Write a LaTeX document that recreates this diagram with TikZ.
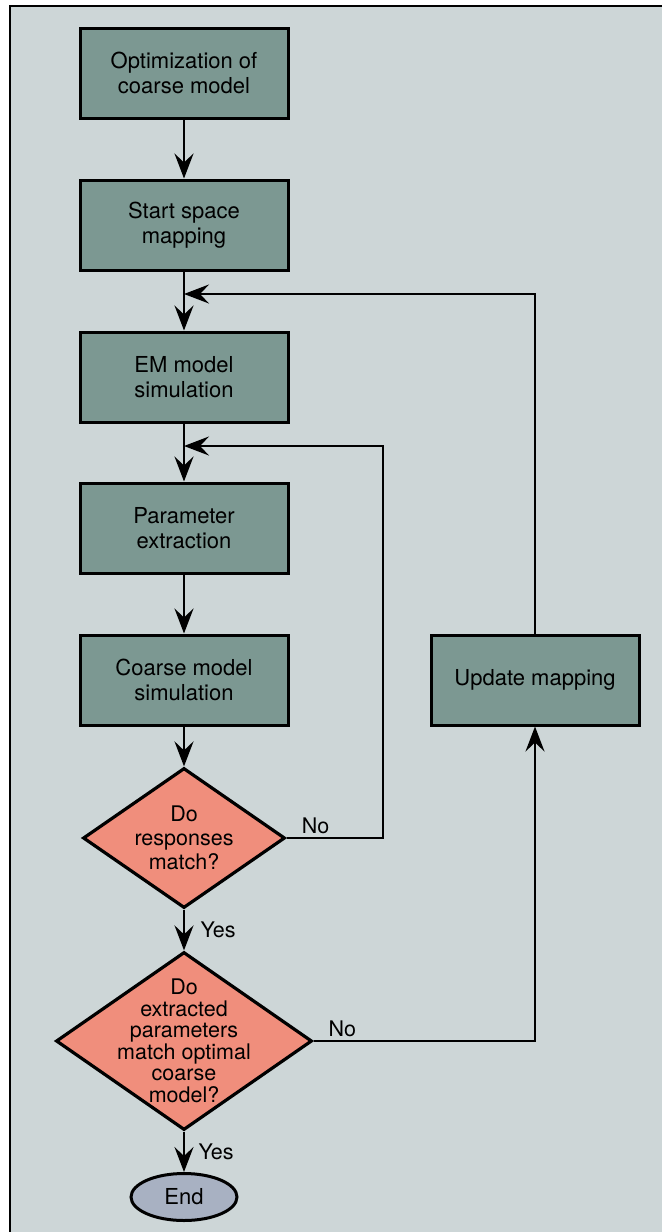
\documentclass[tikz,border=0pt]{standalone}
\usepackage{fontspec}
\setmainfont{TeX Gyre Heros}
\usetikzlibrary{arrows.meta,positioning,shapes.geometric}
\definecolor{paper}{RGB}{205,214,215}
\definecolor{procfill}{RGB}{124,152,146}
\definecolor{askfill}{RGB}{240,142,124}
\definecolor{endfill}{RGB}{168,177,194}

\begin{document}
\begin{tikzpicture}[
    x=1pt, y=-1pt,
    proc/.style={draw, rectangle, line width=3pt, fill=procfill, minimum width=208pt, minimum height=90pt, align=center, font=\fontsize{22}{25}\selectfont},
    decision/.style={draw, diamond, line width=3.2pt, fill=askfill, inner sep=0pt},
    qtext/.style={align=center, font=\fontsize{21.5}{24}\selectfont},
    terminal/.style={draw, ellipse, line width=3pt, fill=endfill, minimum width=106pt, minimum height=47pt, font=\fontsize{22}{25}\selectfont},
    arrow/.style={-{Stealth[length=25pt, width=19pt, inset=9pt]}, line width=2.4pt},
    lab/.style={font=\fontsize{21.5}{24}\selectfont}
  ]
    \useasboundingbox (0,0) rectangle (662,1232);
    \fill[paper] (10,6) rectangle (662,1232);
    \draw[line width=2pt] (662,6) -- (10,6) -- (10,1232);

    \node[proc] (opt) at (184,73)  {Optimization of\\coarse model};
    \node[proc] (ssm) at (184,225) {Start space\\mapping};
    \node[proc] (em)  at (184,377) {EM model\\simulation};
    \node[proc] (pe)  at (184,528) {Parameter\\extraction};
    \node[proc] (cms) at (184,680) {Coarse model\\simulation};
    \node[proc] (upd) at (535,680) {Update mapping};

    \node[decision, minimum width=202pt, minimum height=140pt] (resp) at (184,838) {};
    \node[qtext] (resptxt) at (resp) {Do\\responses\\match?};
    \node[decision, minimum width=256pt, minimum height=178pt] (optm) at (184,1041) {};
    \node[qtext, font=\fontsize{21.5}{21.5}\selectfont] (optmtxt) at (optm) {Do\\extracted\\parameters\\match optimal\\coarse\\model?};
    \node[terminal] (done) at (184,1197) {End};

    \coordinate (j1) at (184,294);
    \coordinate (j2) at (184,446);
    \coordinate (r2) at (383,446);

    \draw[arrow] (opt) -- (ssm);
    \draw[arrow] (ssm) -- (em);
    \draw[arrow] (em) -- (pe);
    \draw[arrow] (pe) -- (cms);
    \draw[arrow] (cms) -- (resp);
    \draw[arrow] (resp) -- node[lab, right=12pt]{Yes} (optm);
    \draw[arrow] (optm) -- node[lab, right=10pt]{Yes} (done);
    \draw[arrow] (resp.east) -- node[lab, above, pos=0.3]{No} (resp.east -| r2) -- (r2) -- (j2);
    \draw[arrow] (optm.east) -- node[lab, above, pos=0.13]{No} (optm.east -| upd) -- (upd);
    \draw[arrow] (upd) -- (upd |- j1) -- (j1);
  \end{tikzpicture}
\end{document}
